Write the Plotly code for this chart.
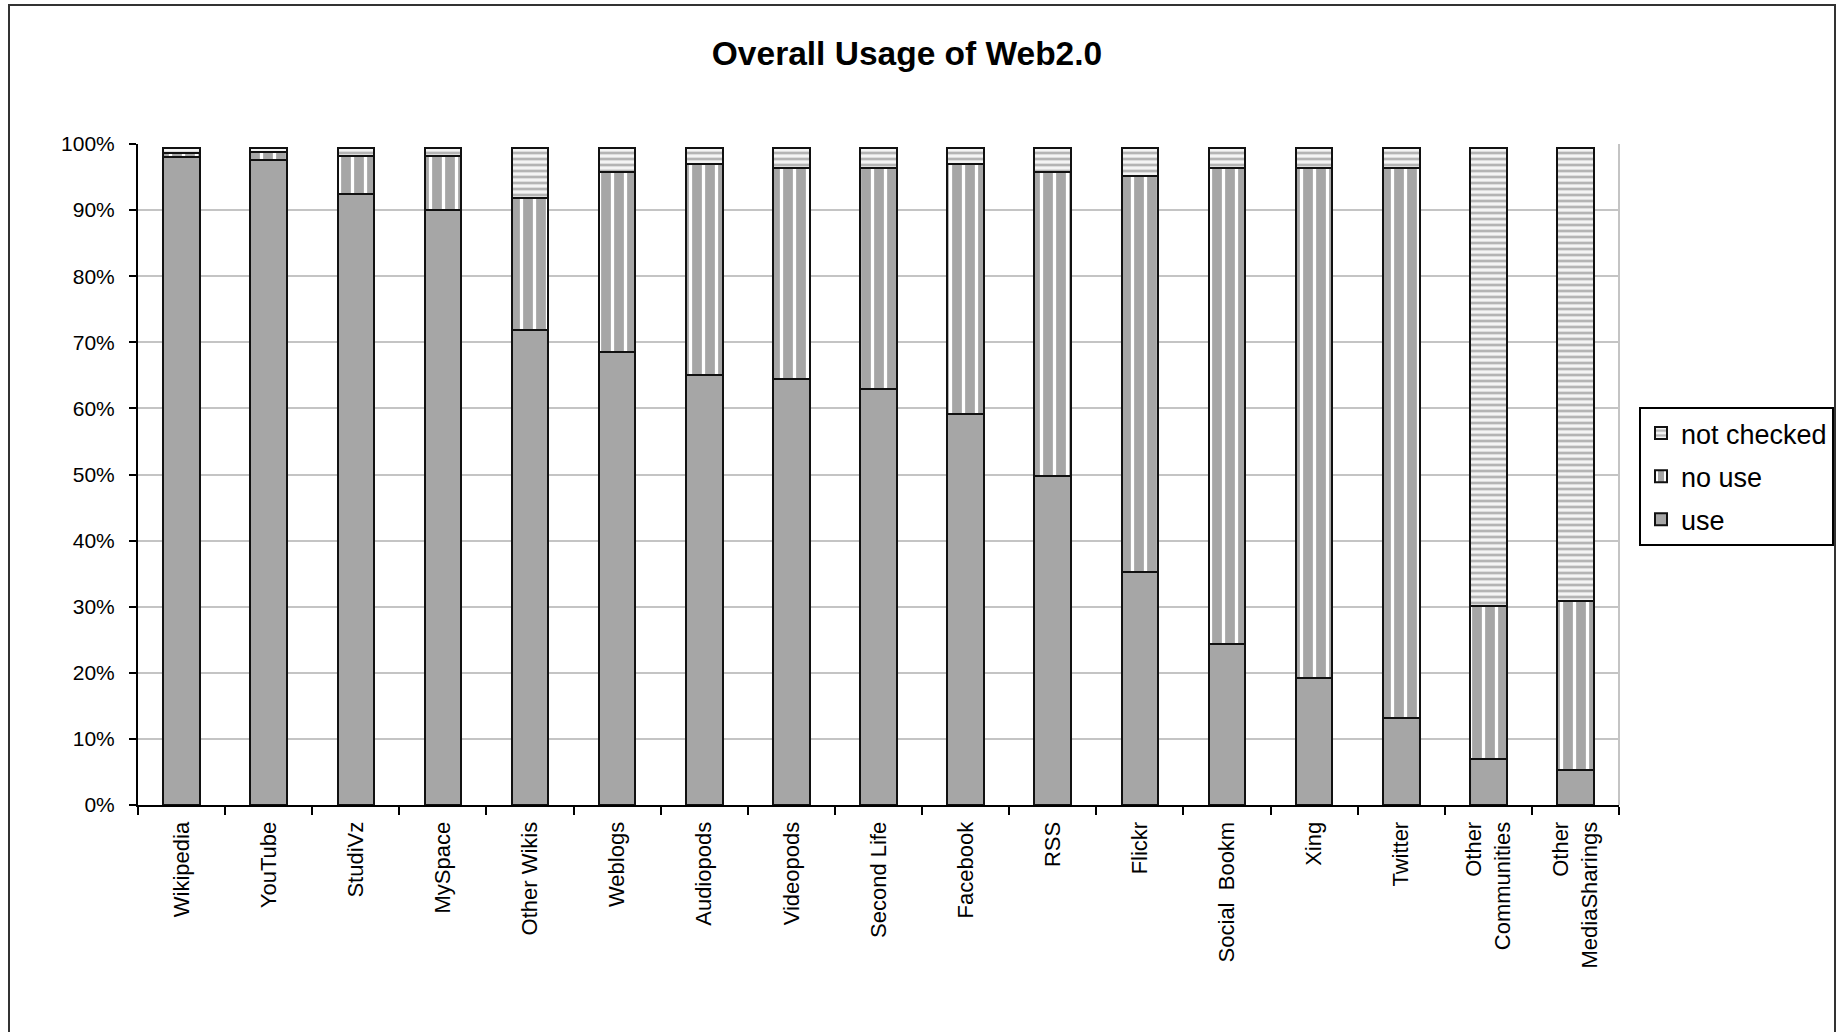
import plotly.graph_objects as go

categories = ["Wikipedia", "YouTube", "StudiVz", "MySpace", "Other Wikis", "Weblogs",
              "Audiopods", "Videopods", "Second Life", "Facebook", "RSS", "Flickr",
              "Social  Bookm", "Xing", "Twitter", "Other<br>Communities", "Other<br>MediaSharings"]

use = [98.1, 97.6, 92.4, 90.0, 71.9, 68.6, 65.0, 64.4, 62.9, 59.2, 49.8, 35.3, 24.3, 19.2, 13.2, 6.9, 5.3]
use_plus_nouse = [98.7, 98.8, 98.2, 98.2, 91.8, 95.8, 97.0, 96.4, 96.4, 97.0, 95.8, 95.1, 96.4, 96.4, 96.4, 30.1, 30.8]
total = 99.4

no_use = [round(a - b, 1) for a, b in zip(use_plus_nouse, use)]
not_checked = [round(total - a, 1) for a in use_plus_nouse]

GRAY = "#a6a6a6"
FONT = "Liberation Sans, Arial, sans-serif"

fig = go.Figure()
fig.add_trace(go.Bar(
    name="use", x=categories, y=use, legendgroup="use", legendrank=3,
    marker=dict(color=GRAY, line=dict(color="#111111", width=2)),
))
fig.add_trace(go.Bar(
    name="no use", x=categories, y=no_use, legendgroup="nouse", legendrank=2,
    marker=dict(color=GRAY, line=dict(color="#111111", width=2),
                pattern=dict(shape="|", fgcolor="white", bgcolor=GRAY, size=13, solidity=0.25,
                             fillmode="replace")),
))
fig.add_trace(go.Bar(
    name="not checked", x=categories, y=not_checked, legendgroup="nc", legendrank=1,
    marker=dict(color="white", line=dict(color="#111111", width=2),
                pattern=dict(shape="-", fgcolor="#b4b4b4", bgcolor="#f4f4f4", size=6, solidity=0.45,
                             fillmode="replace")),
))

# plot area: left 138, right 1619, top 144, bottom 805 of a 1839x1032 page
L, R, T, B = 138, 1619, 144, 805
W, H = 1839, 1032
pw, ph = R - L, B - T

def px(x):
    return (x - L) / pw

def py(y):
    return (B - y) / ph

fig.update_layout(
    width=W, height=H,
    barmode="stack", bargap=0.58,
    paper_bgcolor="white", plot_bgcolor="white",
    margin=dict(l=L, r=W - R, t=T, b=H - B, autoexpand=False),
    font=dict(family=FONT, color="black"),
    title=dict(text="<b>Overall Usage of Web2.0</b>", x=907 / W, y=1 - 53 / H,
               xanchor="center", yanchor="middle", xref="container", yref="container",
               font=dict(size=33.5, family=FONT, color="black")),
    legend=dict(x=px(1639), y=py(407), xanchor="left", yanchor="top",
                traceorder="grouped", bordercolor="black", borderwidth=2,
                bgcolor="white", font=dict(size=27, family=FONT, color="black"),
                itemwidth=30, tracegroupgap=5),
    showlegend=True,
    xaxis=dict(tickangle=-90, tickson="boundaries", ticks="outside", ticklen=8,
               tickcolor="black", tickwidth=2, showline=True, linecolor="black", linewidth=2,
               tickfont=dict(size=22, family=FONT, color="black"), showgrid=False,
               ticklabelstandoff=6,
               range=[-0.5, len(categories) - 0.5]),
    yaxis=dict(range=[0, 100], dtick=10, ticksuffix="%", ticks="outside", ticklen=7,
               tickcolor="black", tickwidth=2, showline=True, linecolor="black", linewidth=2,
               showgrid=True, gridcolor="#c4c4c4", gridwidth=2, zeroline=False,
               ticklabelstandoff=10,
               tickfont=dict(size=21, family=FONT, color="black")),
    shapes=[
        dict(type="line", xref="paper", yref="paper", x0=1, x1=1, y0=0, y1=1,
             line=dict(color="#c4c4c4", width=2), layer="below"),
        dict(type="rect", xref="paper", yref="paper",
             x0=px(9), x1=px(1835), y0=py(1045), y1=py(5),
             line=dict(color="#333333", width=2), layer="below"),
    ],
)

fig.write_html("out.html", config={"displayModeBar": False},
               post_script="document.body.style.margin='0px';")
